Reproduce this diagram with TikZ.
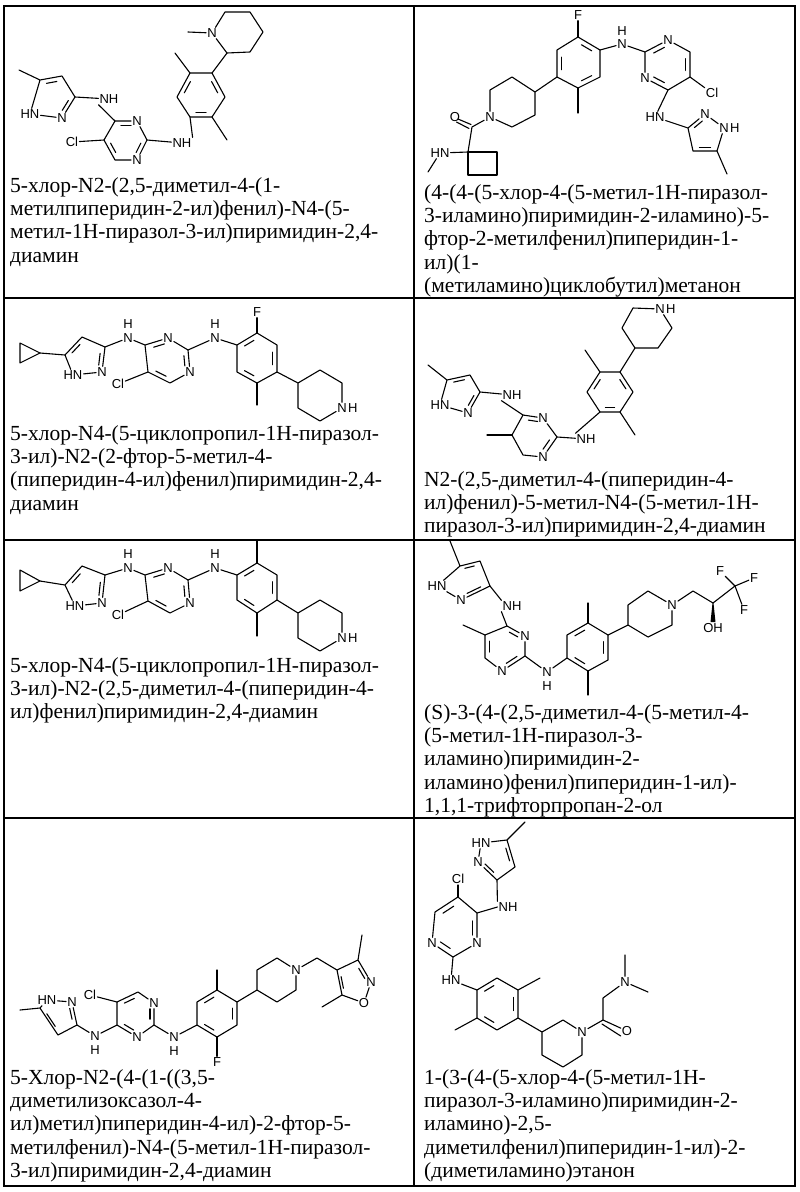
\documentclass[tikz,border=0pt]{standalone}
\usepackage{fontspec}
\setmainfont{Liberation Serif}
\newfontfamily\atomfont{Liberation Sans}
\usetikzlibrary{calc}
\newcommand\Cc[3]{\coordinate (#1) at (#2,#3);}
\newcommand\Aa[4]{\node[atom] (#1) at (#2,#3) {#4};}
\newcommand\Hr[1]{\node[atom,anchor=west,inner sep=0pt] (#1H) at (#1.east) {H};}
\newcommand\dbl[3]{\draw[bond] ($($(#1)!0.2!(#2)$)!0.22!(#3)$) -- ($($(#2)!0.2!(#1)$)!0.22!(#3)$);}
\begin{document}
\begin{tikzpicture}[x=1pt,y=-1pt,
  bond/.style={line width=1.1pt,line cap=round,line join=round},
  atom/.style={font=\atomfont\fontsize{13}{13}\selectfont,inner sep=1pt},
  txt/.style={font=\fontsize{21.5}{23}\selectfont,anchor=base west,inner sep=0pt},
  grid/.style={line width=1.3pt}]
\useasboundingbox (0,0) rectangle (800,1192);
% table
\draw[grid] (4,6) rectangle (795,1186);
\draw[grid] (414,6) -- (414,1186);
\draw[grid] (4,298) -- (795,298);
\draw[grid] (4,540) -- (795,540);
\draw[grid] (4,818) -- (795,818);
% ---------- S1
\Cc{aM}{19}{70}\Cc{a5}{40}{80}\Cc{a4}{62}{76}\Cc{a3}{75}{97}\Aa{aN2}{62}{118}{N}\Aa{aN1}{30}{114}{HN}\Cc{aP}{54}{98}
\draw[bond] (aM)--(a5)--(a4)--(a3)--(aN2)--(aN1)--(a5);
\dbl{a5}{a4}{aP}\dbl{a3}{aN2}{aP}
\Aa{aNH}{109}{99}{NH}
\Cc{b4}{115}{121}\Aa{bN3}{137}{121}{N}\Cc{b2}{147}{140}\Aa{bN1}{137}{160}{N}\Cc{b6}{115}{160}\Cc{b5}{104}{140}\Cc{bP}{126}{140}
\Aa{bCl}{72}{142}{Cl}\Aa{bNH}{182}{143}{NH}
\draw[bond] (a3)--(aNH);\draw[bond] (aNH.south west)--(b4);
\draw[bond] (b4)--(bN3)--(b2)--(bN1)--(b6)--(b5)--(b4);\draw[bond] (b5)--(bCl);\draw[bond] (b2)--(bNH);
\dbl{b4}{bN3}{bP}\dbl{b2}{bN1}{bP}\dbl{b6}{b5}{bP}
\Cc{c1}{190}{73}\Cc{c2}{212}{73}\Cc{c3}{225}{97}\Cc{c4}{212}{117}\Cc{c5}{190}{117}\Cc{c6}{177}{97}\Cc{cP}{201}{95}
\Cc{cM1}{175}{53}\Cc{cM2}{227}{140}
\draw[bond] (c1)--(c2)--(c3)--(c4)--(c5)--(c6)--cycle;\draw[bond] (c1)--(cM1);\draw[bond] (c4)--(cM2);\draw[bond] (bNH.north east)--(c5);
\dbl{c2}{c3}{cP}\dbl{c4}{c5}{cP}\dbl{c6}{c1}{cP}
\Cc{p2}{227}{53}\Aa{pN}{212}{33}{N}\Cc{pM}{188}{32}\Cc{p6}{225}{12}\Cc{p5}{250}{12}\Cc{p4}{263}{32}\Cc{p3}{250}{52}
\draw[bond] (c2)--(p2)--(pN)--(p6)--(p5)--(p4)--(p3)--(p2);\draw[bond] (pN)--(pM);
% ---------- S2
\Aa{dF}{578}{15}{F}\Cc{d1}{578}{37}\Cc{d2}{600}{50}\Cc{d3}{600}{77}\Cc{d4}{578}{88}\Cc{d5}{557}{77}\Cc{d6}{557}{50}\Cc{dP}{578}{63}\Cc{dM}{578}{113}
\draw[bond] (d1)--(d2)--(d3)--(d4)--(d5)--(d6)--cycle;\draw[bond] (d1)--(dF);\draw[bond] (d4)--(dM);
\dbl{d1}{d2}{dP}\dbl{d3}{d4}{dP}\dbl{d5}{d6}{dP}
\Aa{dN}{622}{44}{N}\node[atom] (dH) at (622,31) {H};
\draw[bond] (d2)--(dN);
\Cc{e4}{535}{92}\Cc{e3}{512}{77}\Cc{e2}{490}{90}\Aa{eN}{490}{117}{N}\Cc{e6}{512}{127}\Cc{e5}{535}{115}
\draw[bond] (d5)--(e4)--(e3)--(e2)--(eN)--(e6)--(e5)--(e4);
\Cc{eC}{472}{127}\Aa{eO}{455}{117}{O}\Cc{eQ}{468}{152}\Aa{eHN}{440}{153}{HN}\Cc{eM}{428}{172}
\Cc{eb2}{497}{152}\Cc{eb3}{497}{175}\Cc{eb4}{468}{175}
\draw[bond] (eN)--(eC)--(eQ)--(eHN);\draw[bond] (eHN)--(eM);\draw[bond] (eQ)--(eb2)--(eb3)--(eb4)--(eQ);
\draw[bond] ($(eC)+(-1,-2.5)$)--($(eO)+(3,2)$);\draw[bond] ($(eC)+(-3,1.5)$)--($(eO)+(1.5,5)$);
\Cc{f2}{645}{52}\Aa{fN3}{668}{40}{N}\Cc{f6}{690}{52}\Cc{f5}{690}{77}\Cc{f4}{668}{90}\Aa{fN1}{645}{78}{N}\Cc{fP}{668}{65}
\Aa{fCl}{712}{93}{Cl}
\draw[bond] (dN)--(f2)--(fN3)--(f6)--(f5)--(f4)--(fN1)--(f2);\draw[bond] (f5)--(fCl);
\dbl{f2}{fN3}{fP}\dbl{f6}{f5}{fP}\dbl{f4}{fN1}{fP}
\Aa{fHN}{655}{117}{HN}
\Cc{g3}{688}{128}\Aa{gN2}{705}{114}{N}\Aa{gN1}{724}{128}{N}\Hr{gN1}\Cc{g5}{717}{151}\Cc{g4}{693}{151}\Cc{gM}{727}{174}\Cc{gP}{705}{136}
\draw[bond] (f4)--(fHN)--(g3)--(gN2)--(gN1)--(g5)--(g4)--(g3);\draw[bond] (g5)--(gM);
\dbl{g3}{gN2}{gP}\dbl{g5}{g4}{gP}
% ---------- S3 (row 2 left)
\Cc{hA}{20}{343}\Cc{hB}{20}{363}\Cc{hC}{40}{353}
\draw[bond] (hA)--(hB)--(hC)--cycle;
\Cc{h5}{65}{355}\Cc{h4}{82}{337}\Cc{h3}{105}{347}\Aa{hN2}{102}{372}{N}\Aa{hN1}{73}{375}{HN}\Cc{hP}{85}{358}
\draw[bond] (hC)--(h5)--(h4)--(h3)--(hN2)--(hN1)--(h5);\dbl{h5}{h4}{hP}\dbl{h3}{hN2}{hP}
\Aa{hNH}{128}{338}{N}\node[atom] (hH) at (128,324) {H};
\Cc{i4}{145}{345}\Aa{iN3}{168}{338}{N}\Cc{i2}{188}{350}\Aa{iN1}{190}{372}{N}\Cc{i6}{170}{383}\Cc{i5}{148}{372}\Cc{iP}{168}{360}
\Aa{iCl}{118}{384}{Cl}
\draw[bond] (h3)--(hNH)--(i4)--(iN3)--(i2)--(iN1)--(i6)--(i5)--(i4);\draw[bond] (i5)--(iCl);
\dbl{i4}{iN3}{iP}\dbl{i2}{iN1}{iP}\dbl{i6}{i5}{iP}
\Aa{iNH}{215}{338}{N}\node[atom] (iH) at (215,324) {H};
\Cc{j1}{237}{345}\Cc{j2}{257}{333}\Cc{j3}{277}{345}\Cc{j4}{277}{372}\Cc{j5}{257}{383}\Cc{j6}{237}{372}\Cc{jP}{257}{358}
\Aa{jF}{257}{312}{F}\Cc{jM}{257}{405}
\draw[bond] (i2)--(iNH)--(j1)--(j2)--(j3)--(j4)--(j5)--(j6)--(j1);\draw[bond] (j2)--(jF);\draw[bond] (j5)--(jM);
\dbl{j1}{j2}{jP}\dbl{j3}{j4}{jP}\dbl{j5}{j6}{jP}
\Cc{k4}{298}{383}\Cc{k3}{320}{370}\Cc{k2}{342}{383}\Aa{kN}{342}{408}{N}\Hr{kN}\Cc{k6}{320}{421}\Cc{k5}{298}{408}
\draw[bond] (j4)--(k4)--(k3)--(k2)--(kN)--(k6)--(k5)--(k4);
% ---------- S4 (row 2 right)
\Cc{l3}{480}{392}\Cc{l4}{470}{375}\Cc{l5}{447}{380}\Cc{lM}{428}{365}\Aa{lN1}{440}{405}{HN}\Aa{lN2}{468}{413}{N}\Cc{lP}{461}{393}
\draw[bond] (lM)--(l5)--(l4)--(l3)--(lN2)--(lN1)--(l5);\dbl{l5}{l4}{lP}\dbl{l3}{lN2}{lP}
\Aa{lNH}{512}{395}{NH}
\Cc{m4}{523}{415}\Aa{mN3}{543}{418}{N}\Cc{m2}{557}{437}\Aa{mN1}{543}{457}{N}\Cc{m6}{523}{455}\Cc{m5}{512}{435}\Cc{mM}{487}{435}\Cc{mP}{533}{436}
\draw[bond] (l3)--(lNH);\draw[bond] (lNH.south west)--(m4);
\draw[bond] (m4)--(mN3)--(m2)--(mN1)--(m6)--(m5)--(m4);\draw[bond] (m5)--(mM);
\dbl{m4}{mN3}{mP}\dbl{m2}{mN1}{mP}
\Aa{mNH}{586}{439}{NH}
\Cc{n1}{600}{372}\Cc{n2}{620}{372}\Cc{n3}{633}{392}\Cc{n4}{620}{412}\Cc{n5}{600}{412}\Cc{n6}{587}{392}\Cc{nP}{610}{392}
\Cc{nM1}{585}{350}\Cc{nM2}{635}{435}
\draw[bond] (m2)--(mNH);\draw[bond] (mNH.north west)--(n5);
\draw[bond] (n1)--(n2)--(n3)--(n4)--(n5)--(n6)--cycle;\draw[bond] (n1)--(nM1);\draw[bond] (n4)--(nM2);
\dbl{n2}{n3}{nP}\dbl{n4}{n5}{nP}\dbl{n6}{n1}{nP}
\Cc{o4}{635}{348}\Cc{o3}{622}{328}\Cc{o2}{633}{308}\Aa{oN}{660}{309}{N}\Hr{oN}\Cc{o6}{672}{328}\Cc{o5}{658}{348}
\draw[bond] (n2)--(o4)--(o3)--(o2)--(oN)--(o6)--(o5)--(o4);
% ---------- S5 (row 3 left)
\Cc{qA}{20}{570}\Cc{qB}{20}{591}\Cc{qC}{40}{581}
\draw[bond] (qA)--(qB)--(qC)--cycle;
\Cc{q5}{65}{585}\Cc{q4}{82}{566}\Cc{q3}{105}{575}\Aa{qN2}{102}{603}{N}\Aa{qN1}{75}{606}{HN}\Cc{qP}{86}{588}
\draw[bond] (qC)--(q5)--(q4)--(q3)--(qN2)--(qN1)--(q5);\dbl{q5}{q4}{qP}\dbl{q3}{qN2}{qP}
\Aa{qNH}{128}{568}{N}\node[atom] (qH) at (128,554) {H};
\Cc{r4}{145}{575}\Aa{rN3}{168}{568}{N}\Cc{r2}{188}{580}\Aa{rN1}{190}{603}{N}\Cc{r6}{170}{613}\Cc{r5}{148}{601}\Cc{rP}{168}{590}
\Aa{rCl}{118}{615}{Cl}
\draw[bond] (q3)--(qNH)--(r4)--(rN3)--(r2)--(rN1)--(r6)--(r5)--(r4);\draw[bond] (r5)--(rCl);
\dbl{r4}{rN3}{rP}\dbl{r2}{rN1}{rP}\dbl{r6}{r5}{rP}
\Aa{rNH}{215}{568}{N}\node[atom] (rH) at (215,554) {H};
\Cc{s1}{237}{575}\Cc{s2}{257}{563}\Cc{s3}{277}{575}\Cc{s4}{277}{600}\Cc{s5}{257}{613}\Cc{s6}{237}{600}\Cc{sP}{257}{588}
\Cc{sM1}{257}{540}\Cc{sM2}{257}{636}
\draw[bond] (r2)--(rNH)--(s1)--(s2)--(s3)--(s4)--(s5)--(s6)--(s1);\draw[bond] (s2)--(sM1);\draw[bond] (s5)--(sM2);
\dbl{s1}{s2}{sP}\dbl{s3}{s4}{sP}\dbl{s5}{s6}{sP}
\Cc{t4}{298}{613}\Cc{t3}{320}{600}\Cc{t2}{342}{613}\Aa{tN}{342}{638}{N}\Hr{tN}\Cc{t6}{320}{651}\Cc{t5}{298}{638}
\draw[bond] (s4)--(t4)--(t3)--(t2)--(tN)--(t6)--(t5)--(t4);
% ---------- S6 (row 3 right)
\Cc{uM}{450}{541}\Cc{u5}{460}{566}\Cc{u4}{480}{561}\Cc{u3}{490}{586}\Aa{uN2}{461}{600}{N}\Aa{uN1}{437}{586}{HN}\Cc{uP}{468}{580}
\draw[bond] (uM)--(u5)--(u4)--(u3)--(uN2)--(uN1)--(u5);\dbl{u5}{u4}{uP}\dbl{u3}{uN2}{uP}
\Aa{uNH}{512}{606}{NH}
\Cc{v4}{507}{626}\Aa{vN3}{525}{636}{N}\Cc{v2}{525}{656}\Aa{vN1}{502}{671}{N}\Cc{v6}{485}{658}\Cc{v5}{485}{635}\Cc{vM}{463}{625}\Cc{vP}{505}{647}
\draw[bond] (u3)--(uNH.north west);\draw[bond] (uNH.south west)--(v4)--(vN3)--(v2)--(vN1)--(v6)--(v5)--(v4);\draw[bond] (v5)--(vM);
\dbl{v4}{vN3}{vP}\dbl{v2}{vN1}{vP}\dbl{v6}{v5}{vP}
\Aa{vNH}{547}{672}{N}\node[atom] (vH) at (547,686) {H};
\Cc{w1}{567}{658}\Cc{w2}{588}{671}\Cc{w3}{608}{660}\Cc{w4}{608}{635}\Cc{w5}{588}{623}\Cc{w6}{567}{635}\Cc{wP}{588}{647}
\Cc{wM1}{588}{603}\Cc{wM2}{588}{695}
\draw[bond] (v2)--(vNH)--(w1)--(w2)--(w3)--(w4)--(w5)--(w6)--(w1);\draw[bond] (w5)--(wM1);\draw[bond] (w2)--(wM2);
\dbl{w1}{w2}{wP}\dbl{w3}{w4}{wP}\dbl{w5}{w6}{wP}
\Cc{x4}{628}{625}\Cc{x3}{628}{605}\Cc{x2}{648}{591}\Aa{xN}{672}{605}{N}\Cc{x6}{672}{625}\Cc{x5}{648}{637}
\draw[bond] (w4)--(x4)--(x3)--(x2)--(xN)--(x6)--(x5)--(x4);
\Cc{xC}{693}{591}\Cc{xH}{713}{603}\Aa{xOH}{713}{628}{OH}\Cc{xF}{735}{586}
\Aa{xF1}{720}{571}{F}\Aa{xF2}{754}{578}{F}\Aa{xF3}{744}{610}{F}
\draw[bond] (xN)--(xC)--(xH)--(xF);\draw[bond] (xF)--(xF1);\draw[bond] (xF)--(xF2);\draw[bond] (xF)--(xF3);
\fill ($(xH)+(-0.5,0)$) -- ($(xOH.north)+(-2.5,0)$) -- ($(xOH.north)+(2.5,0)$) -- ($(xH)+(0.5,0)$) -- cycle;
% ---------- S7 (row 4 left)
\Cc{yM}{20}{1010}\Cc{y5}{40}{1008}\Cc{y4}{58}{1035}\Cc{y3}{77}{1025}\Aa{yN2}{72}{1002}{N}\Aa{yN1}{47}{1000}{HN}\Cc{yP}{58}{1015}
\draw[bond] (yM)--(y5)--(y4)--(y3)--(yN2)--(yN1)--(y5);\dbl{y5}{y4}{yP}\dbl{y3}{yN2}{yP}
\Aa{yNH}{95}{1036}{N}\node[atom] (yH) at (95,1050) {H};
\Cc{z4}{117}{1025}\Cc{z5}{117}{1002}\Cc{z6}{138}{992}\Aa{zN1}{154}{1003}{N}\Cc{z2}{154}{1025}\Aa{zN3}{137}{1037}{N}\Cc{zP}{136}{1014}
\Aa{zCl}{90}{995}{Cl}
\draw[bond] (y3)--(yNH)--(z4)--(z5)--(z6)--(zN1)--(z2)--(zN3)--(z4);\draw[bond] (z5)--(zCl);
\dbl{z5}{z6}{zP}\dbl{zN1}{z2}{zP}\dbl{zN3}{z4}{zP}
\Aa{zNH}{174}{1037}{N}\node[atom] (zH) at (174,1051) {H};
\Cc{A1}{197}{1025}\Cc{A2}{217}{1037}\Cc{A3}{237}{1025}\Cc{A4}{237}{1002}\Cc{A5}{217}{990}\Cc{A6}{197}{1002}\Cc{AP}{217}{1014}
\Aa{AF}{217}{1062}{F}\Cc{AM}{217}{970}
\draw[bond] (z2)--(zNH)--(A1)--(A2)--(A3)--(A4)--(A5)--(A6)--(A1);\draw[bond] (A2)--(AF);\draw[bond] (A5)--(AM);
\dbl{A1}{A2}{AP}\dbl{A3}{A4}{AP}\dbl{A5}{A6}{AP}
\Cc{B4}{257}{990}\Cc{B3}{257}{970}\Cc{B2}{277}{958}\Aa{BN}{296}{970}{N}\Cc{B6}{296}{990}\Cc{B5}{277}{1002}
\draw[bond] (A4)--(B4)--(B3)--(B2)--(BN)--(B6)--(B5)--(B4);
\Cc{BC}{317}{958}\Cc{D4}{337}{970}\Cc{D3}{358}{960}\Cc{DM1}{362}{935}\Aa{DN}{371}{982}{N}\Aa{DO}{364}{1003}{O}\Cc{D5}{342}{995}\Cc{DM2}{322}{1007}\Cc{DP}{352}{982}
\draw[bond] (BN)--(BC)--(D4)--(D3)--(DN)--(DO)--(D5)--(D4);\draw[bond] (D3)--(DM1);\draw[bond] (D5)--(DM2);
\dbl{D3}{DN}{DP}\dbl{D4}{D5}{DP}
% ---------- S8 (row 4 right)
\Cc{EM}{525}{822}\Cc{E5}{507}{840}\Aa{EN1}{481}{843}{HN}\Aa{EN2}{478}{862}{N}\Cc{E3}{497}{880}\Cc{E4}{515}{867}\Cc{EP}{496}{858}
\draw[bond] (EM)--(E5)--(EN1)--(EN2)--(E3)--(E4)--(E5);\dbl{E5}{E4}{EP}\dbl{EN2}{E3}{EP}
\Aa{ENH}{508}{907}{NH}
\Cc{G4}{477}{913}\Cc{G5}{458}{897}\Cc{G6}{435}{912}\Aa{GN1}{432}{943}{N}\Cc{G2}{453}{957}\Aa{GN3}{477}{943}{N}\Cc{GP}{455}{928}
\Aa{GCl}{458}{879}{Cl}
\draw[bond] (E3)--(ENH.north west);\draw[bond] (ENH.west)--(G4)--(G5)--(G6)--(GN1)--(G2)--(GN3)--(G4);\draw[bond] (G5)--(GCl);
\dbl{G5}{G6}{GP}\dbl{GN1}{G2}{GP}\dbl{GN3}{G4}{GP}
\Aa{GHN}{451}{980}{HN}
\Cc{H1}{477}{990}\Cc{H2}{497}{978}\Cc{H3}{518}{990}\Cc{H4}{518}{1018}\Cc{H5}{497}{1030}\Cc{H6}{477}{1018}\Cc{HP}{497}{1004}
\Cc{HM1}{540}{978}\Cc{HM2}{455}{1030}
\draw[bond] (G2)--(GHN)--(H1)--(H2)--(H3)--(H4)--(H5)--(H6)--(H1);\draw[bond] (H3)--(HM1);\draw[bond] (H6)--(HM2);
\dbl{H1}{H2}{HP}\dbl{H3}{H4}{HP}\dbl{H5}{H6}{HP}
\Cc{I3}{542}{1032}\Cc{I2}{563}{1020}\Aa{IN}{582}{1032}{N}\Cc{I6}{582}{1055}\Cc{I5}{563}{1067}\Cc{I4}{542}{1055}
\draw[bond] (H4)--(I3)--(I2)--(IN)--(I6)--(I5)--(I4)--(I3);
\Cc{IC}{603}{1020}\Aa{IO}{627}{1031}{O}\Cc{ICH}{603}{998}\Aa{JN}{625}{982}{N}\Cc{JM1}{625}{955}\Cc{JM2}{648}{992}
\draw[bond] (IN)--(IC)--(ICH)--(JN)--(JM1);\draw[bond] (JN)--(JM2);
\draw[bond] (IC)--(IO);\draw[bond] ($(IC)+(-1,4)$)--($(IO.west)+(0,5)$);
% ---------- texts
\foreach \t [count=\i] in {{5-хлор-N2-(2,5-диметил-4-(1-},{метилпиперидин-2-ил)фенил)-N4-(5-},{метил-1H-пиразол-3-ил)пиримидин-2,4-},{диамин}}
  \node[txt,name=tA\i] at (10,{192+(\i-1)*23.4}) {\t};
\foreach \t [count=\i] in {{(4-(4-(5-хлор-4-(5-метил-1H-пиразол-},{3-иламино)пиримидин-2-иламино)-5-},{фтор-2-метилфенил)пиперидин-1-},{ил)(1-},{(метиламино)циклобутил)метанон}}
  \node[txt,name=tB\i] at (424,{199+(\i-1)*23.4}) {\t};
\foreach \t [count=\i] in {{5-хлор-N4-(5-циклопропил-1H-пиразол-},{3-ил)-N2-(2-фтор-5-метил-4-},{(пиперидин-4-ил)фенил)пиримидин-2,4-},{диамин}}
  \node[txt,name=tC\i] at (10,{440+(\i-1)*23.4}) {\t};
\foreach \t [count=\i] in {{N2-(2,5-диметил-4-(пиперидин-4-},{ил)фенил)-5-метил-N4-(5-метил-1H-},{пиразол-3-ил)пиримидин-2,4-диамин}}
  \node[txt,name=tD\i] at (424,{486+(\i-1)*23.4}) {\t};
\foreach \t [count=\i] in {{5-хлор-N4-(5-циклопропил-1H-пиразол-},{3-ил)-N2-(2,5-диметил-4-(пиперидин-4-},{ил)фенил)пиримидин-2,4-диамин}}
  \node[txt,name=tE\i] at (10,{672+(\i-1)*23.4}) {\t};
\foreach \t [count=\i] in {{(S)-3-(4-(2,5-диметил-4-(5-метил-4-},{(5-метил-1H-пиразол-3-},{иламино)пиримидин-2-},{иламино)фенил)пиперидин-1-ил)-},{1,1,1-трифторпропан-2-ол}}
  \node[txt,name=tF\i] at (424,{719+(\i-1)*23.4}) {\t};
\foreach \t [count=\i] in {{5-Хлор-N2-(4-(1-((3,5-},{диметилизоксазол-4-},{ил)метил)пиперидин-4-ил)-2-фтор-5-},{метилфенил)-N4-(5-метил-1H-пиразол-},{3-ил)пиримидин-2,4-диамин}}
  \node[txt,name=tG\i] at (10,{1084+(\i-1)*23.4}) {\t};
\foreach \t [count=\i] in {{1-(3-(4-(5-хлор-4-(5-метил-1H-},{пиразол-3-иламино)пиримидин-2-},{иламино)-2,5-},{диметилфенил)пиперидин-1-ил)-2-},{(диметиламино)этанон}}
  \node[txt,name=tH\i] at (424,{1084+(\i-1)*23.4}) {\t};
\end{tikzpicture}
\end{document}
